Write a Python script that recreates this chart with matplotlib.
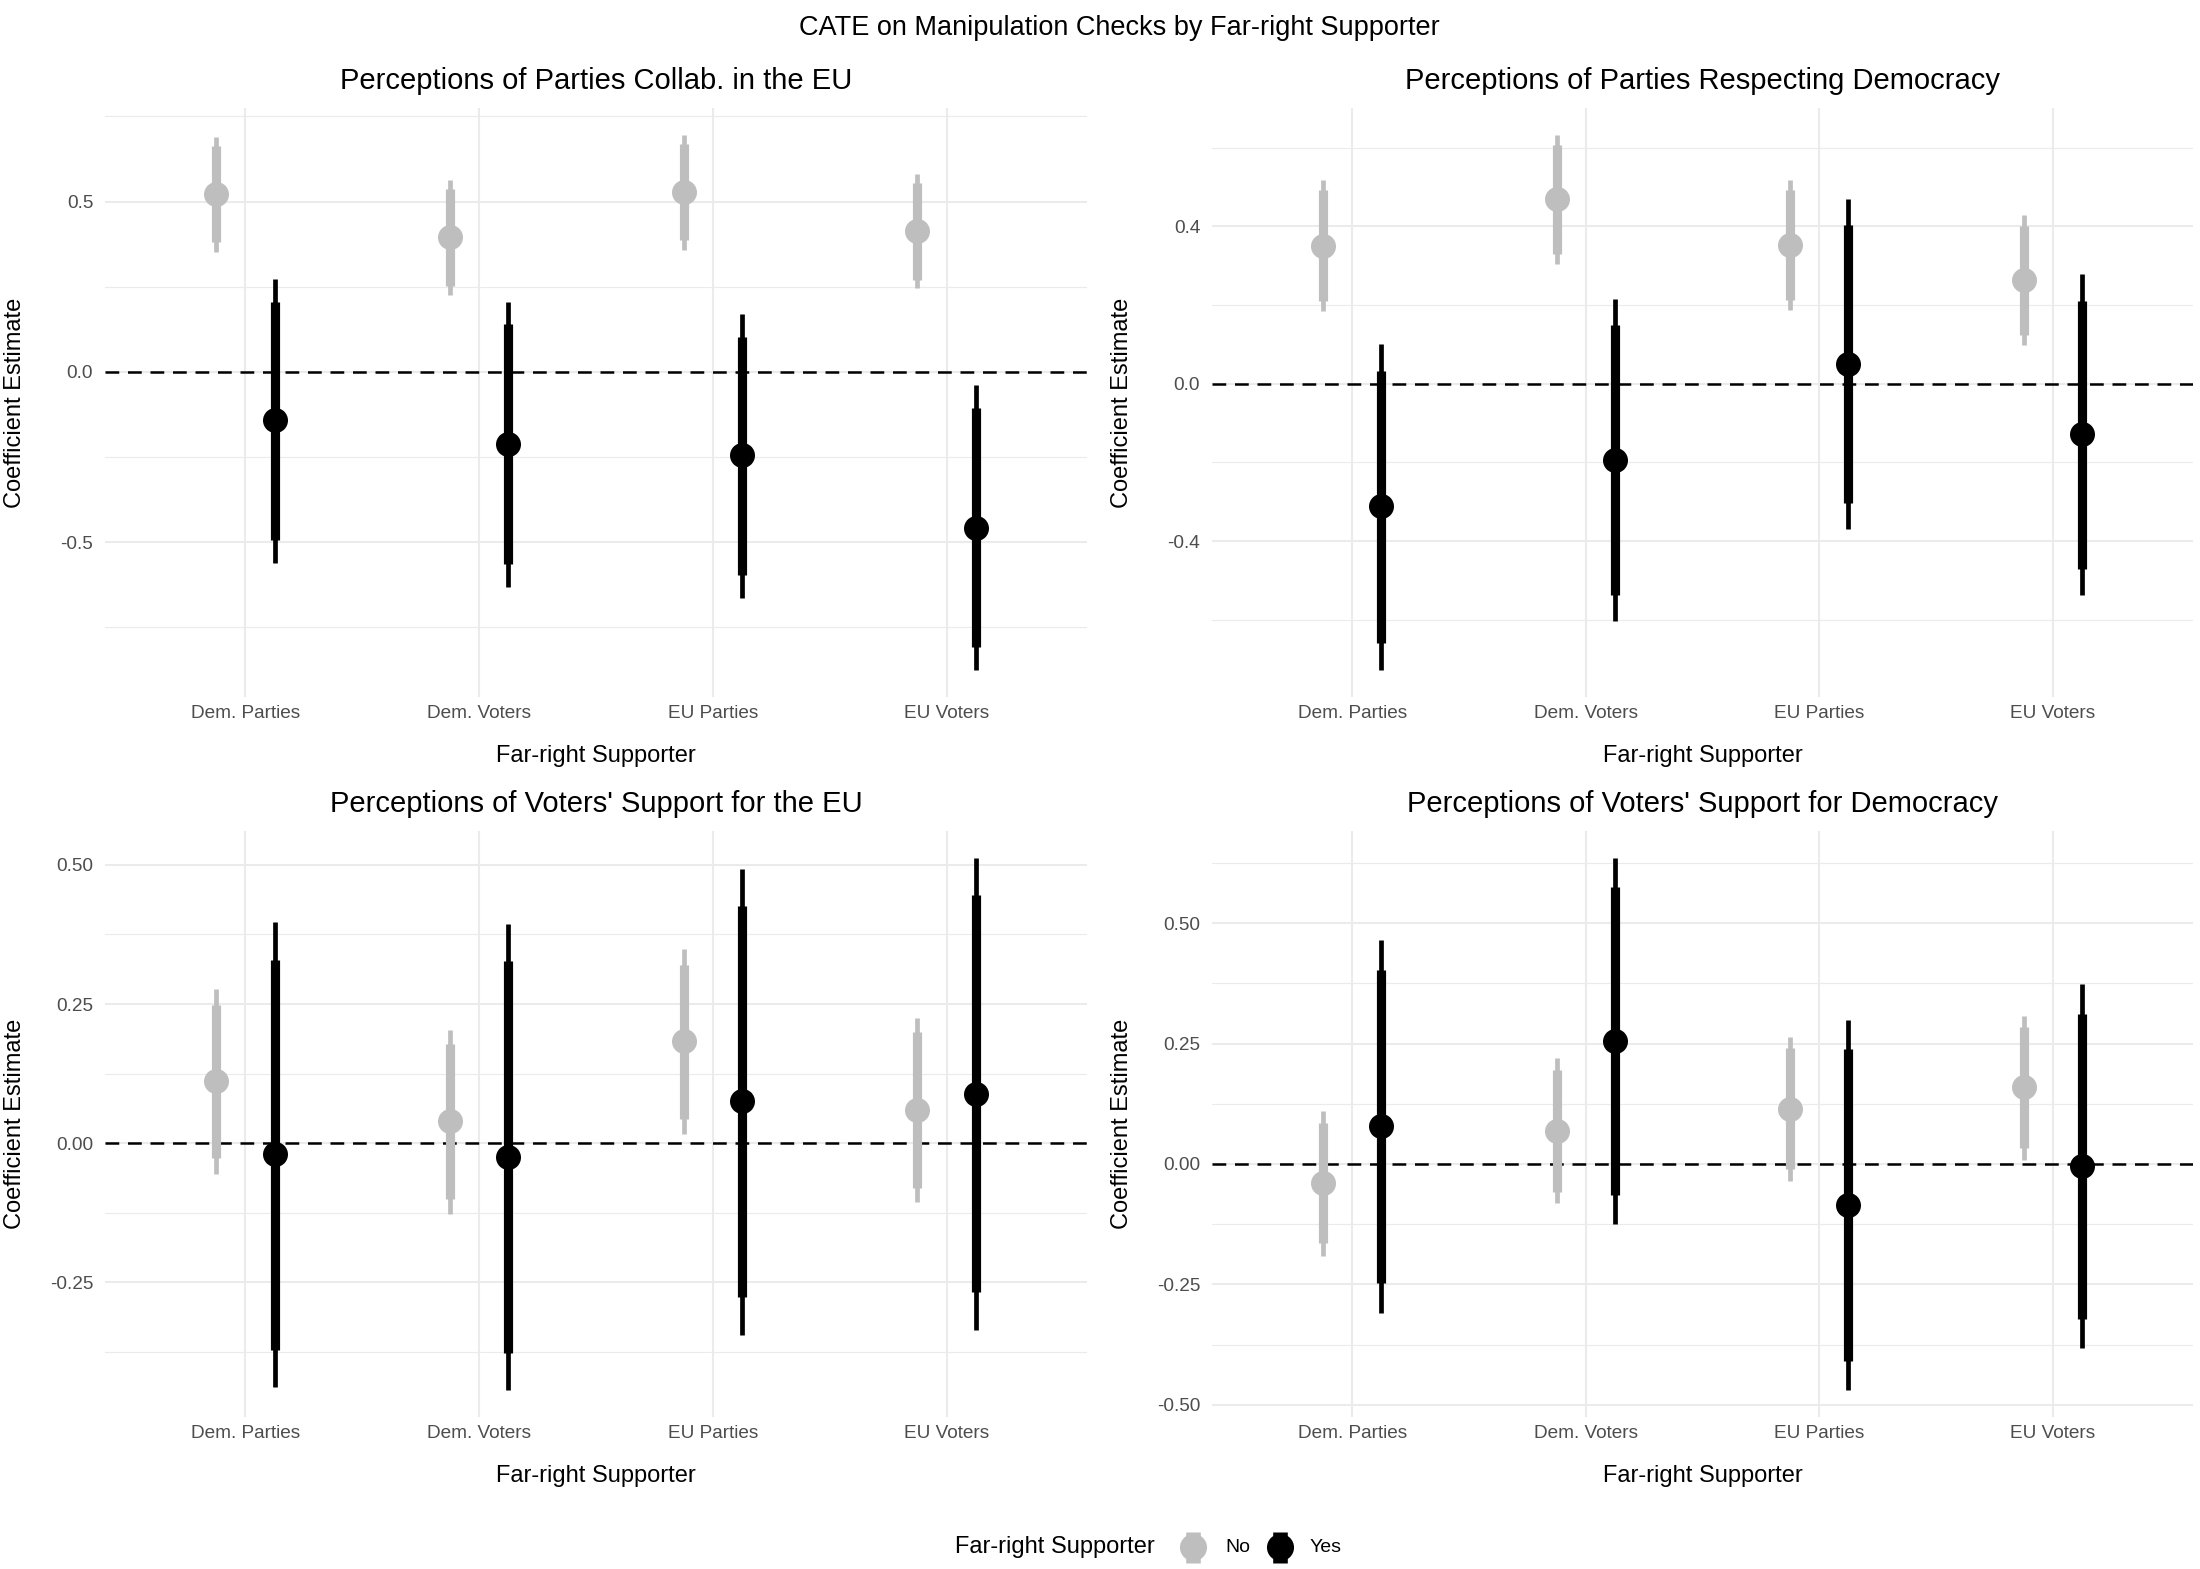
import matplotlib
matplotlib.use('Agg')
import matplotlib.pyplot as plt
from matplotlib.ticker import FixedLocator, FormatStrFormatter

plt.rcParams['font.family'] = ['Liberation Sans', 'DejaVu Sans']
plt.rcParams['axes.unicode_minus'] = False

categories = ['Dem. Parties', 'Dem. Voters', 'EU Parties', 'EU Voters']
groups = ['No', 'Yes']
panel_titles = ['Perceptions of Parties Collab. in the EU',
                'Perceptions of Parties Respecting Democracy',
                "Perceptions of Voters' Support for the EU",
                "Perceptions of Voters' Support for Democracy"]

# rows: estimate, inner low, inner high, outer low, outer high (one row per category)
collab_no = [[0.522, 0.380, 0.663, 0.353, 0.690],
             [0.395, 0.253, 0.536, 0.225, 0.563],
             [0.528, 0.387, 0.670, 0.359, 0.696],
             [0.413, 0.271, 0.554, 0.245, 0.582]]
collab_yes = [[-0.141, -0.493, 0.206, -0.560, 0.273],
              [-0.213, -0.565, 0.139, -0.633, 0.206],
              [-0.245, -0.596, 0.102, -0.663, 0.171],
              [-0.457, -0.807, -0.107, -0.876, -0.039]]

respect_no = [[0.351, 0.211, 0.492, 0.184, 0.518],
              [0.469, 0.331, 0.607, 0.305, 0.633],
              [0.354, 0.214, 0.492, 0.188, 0.517],
              [0.263, 0.124, 0.402, 0.098, 0.428]]
respect_yes = [[-0.311, -0.660, 0.033, -0.728, 0.101],
               [-0.193, -0.537, 0.150, -0.603, 0.216],
               [0.051, -0.302, 0.404, -0.370, 0.471],
               [-0.128, -0.470, 0.211, -0.537, 0.278]]

voters_eu_no = [[0.111, -0.027, 0.249, -0.055, 0.277],
                [0.039, -0.100, 0.178, -0.128, 0.204],
                [0.184, 0.044, 0.321, 0.017, 0.348],
                [0.059, -0.080, 0.199, -0.106, 0.225]]
voters_eu_yes = [[-0.020, -0.372, 0.330, -0.438, 0.397],
                 [-0.024, -0.377, 0.327, -0.444, 0.394],
                 [0.076, -0.276, 0.426, -0.344, 0.493],
                 [0.089, -0.268, 0.445, -0.335, 0.513]]

voters_dem_no = [[-0.040, -0.165, 0.086, -0.191, 0.110],
                 [0.068, -0.058, 0.195, -0.082, 0.219],
                 [0.115, -0.011, 0.240, -0.036, 0.264],
                 [0.159, 0.034, 0.285, 0.009, 0.308]]
voters_dem_yes = [[0.079, -0.247, 0.403, -0.309, 0.466],
                  [0.255, -0.064, 0.575, -0.125, 0.636],
                  [-0.085, -0.410, 0.238, -0.470, 0.299],
                  [-0.004, -0.321, 0.312, -0.383, 0.373]]

major_ticks = [[-0.5, 0.0, 0.5],
               [-0.4, 0.0, 0.4],
               [-0.25, 0.0, 0.25, 0.5],
               [-0.5, -0.25, 0.0, 0.25, 0.5]]
minor_ticks = [[-0.75, -0.25, 0.25, 0.75],
               [-0.6, -0.2, 0.2, 0.6],
               [-0.375, -0.125, 0.125, 0.375],
               [-0.375, -0.125, 0.125, 0.375, 0.625]]
tick_fmt = ['%.1f', '%.1f', '%.2f', '%.2f']

colors = {'No': '#BEBEBE', 'Yes': '#000000'}
offsets = {'No': -0.125, 'Yes': 0.125}

W, H = 2200, 1569
fig = plt.figure(figsize=(W / 100, H / 100), dpi=100)

# axes boxes in pixels: left, top, right, bottom
boxes = [(105, 108, 1087, 697), (1212, 108, 2193, 697),
         (105, 831, 1087, 1417), (1212, 831, 2193, 1417)]
panels = [(collab_no, collab_yes), (respect_no, respect_yes),
          (voters_eu_no, voters_eu_yes), (voters_dem_no, voters_dem_yes)]

for i, (box, (d_no, d_yes)) in enumerate(zip(boxes, panels)):
    l, t, r, b = box
    ax = fig.add_axes([l / W, 1 - b / H, (r - l) / W, (b - t) / H])
    for s in ax.spines.values():
        s.set_visible(False)

    xs = list(range(1, len(categories) + 1))
    all_vals = []
    for g, data in zip(groups, (d_no, d_yes)):
        xpos = [x + offsets[g] for x in xs]
        est = [row[0] for row in data]
        ax.vlines(xpos, [row[3] for row in data], [row[4] for row in data],
                  color=colors[g], lw=3.4, capstyle='butt', zorder=3)
        ax.vlines(xpos, [row[1] for row in data], [row[2] for row in data],
                  color=colors[g], lw=6.6, capstyle='butt', zorder=3)
        ax.plot(xpos, est, 'o', color=colors[g], ms=18, mew=0, zorder=4)
        for row in data:
            all_vals.extend(row)

    lo, hi = min(all_vals), max(all_vals)
    pad = 0.05 * (hi - lo)
    ax.set_ylim(lo - pad, hi + pad)
    ax.set_xlim(0.4, 4.6)

    ax.axhline(0, color='black', lw=1.8, linestyle=(0, (5.5, 3.5)), zorder=2)

    ax.yaxis.set_major_locator(FixedLocator(major_ticks[i]))
    ax.yaxis.set_minor_locator(FixedLocator(minor_ticks[i]))
    ax.yaxis.set_major_formatter(FormatStrFormatter(tick_fmt[i]))
    ax.set_xticks(xs)
    ax.set_xticklabels(categories)
    ax.grid(True, which='major', color='#EBEBEB', lw=1.5, zorder=0)
    ax.grid(True, which='minor', axis='y', color='#EBEBEB', lw=0.8, zorder=0)
    ax.set_axisbelow(True)
    ax.tick_params(which='both', length=0)
    ax.tick_params(axis='x', labelsize=13.7, labelcolor='#4D4D4D', pad=6)
    ax.tick_params(axis='y', labelsize=13.7, labelcolor='#4D4D4D', pad=8.5)

    ph = b - t
    pw = r - l
    ax.text(0.5, 1 + 19 / ph, panel_titles[i], transform=ax.transAxes,
            ha='center', va='baseline', fontsize=21)
    ax.set_xlabel('Far-right Supporter', fontsize=17)
    ax.xaxis.set_label_coords(0.5, -65 / ph)
    ax.xaxis.label.set_va('baseline')
    ax.set_ylabel('Coefficient Estimate', fontsize=17)
    ylab_x = 15 if l < 1000 else 1122
    ax.yaxis.set_label_coords((ylab_x - l) / pw, 0.5)
    ax.yaxis.label.set_va('center')

fig.text(1119 / W, 1 - 35 / H, 'CATE on Manipulation Checks by Far-right Supporter',
         ha='center', va='baseline', fontsize=19.5)

# legend drawn in pixel space
leg = fig.add_axes([0, 0, 1, 1])
leg.set_xlim(0, W)
leg.set_ylim(H, 0)
leg.axis('off')
ly = 1547
leg.text(955, ly, 'Far-right Supporter', fontsize=17, va='center', ha='left')
for g, gx, tx in [('No', 1193, 1225), ('Yes', 1280, 1310)]:
    leg.vlines([gx], ly - 15.5, ly + 15.5, color=colors[g], lw=10.5, capstyle='butt')
    leg.plot([gx], [ly], 'o', color=colors[g], ms=19.5, mew=0)
    leg.text(tx, ly, g, fontsize=14, va='center', ha='left')

fig.savefig('out.png', dpi=100, facecolor='white')
